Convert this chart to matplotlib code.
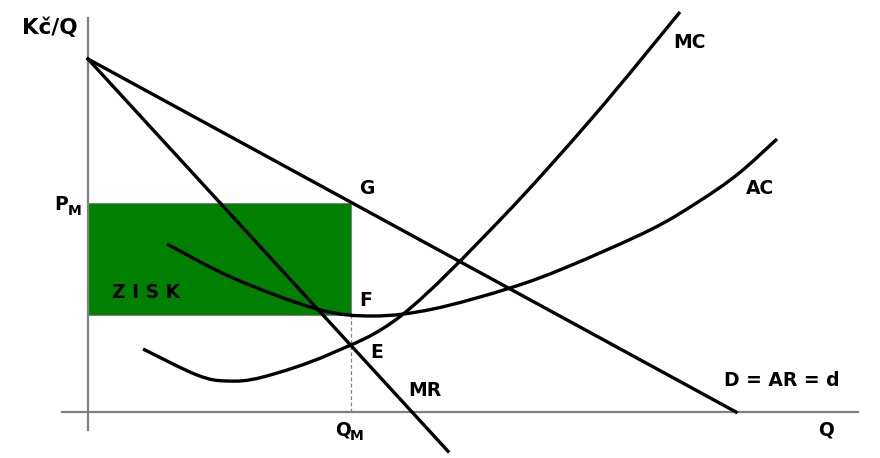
import matplotlib
matplotlib.use("Agg")
import matplotlib.pyplot as plt
from matplotlib.path import Path
from matplotlib.patches import PathPatch
import numpy as np

# --- data (Q, Kc/Q) ---
d_p0 = 35.3        # price intercept of D and MR
d_qmax = 64.8      # quantity where D meets the Q axis
mr_qend = 36.0     # MR drawn down to this Q
q_m = 26.3         # monopoly output
p_m = 20.9         # monopoly price (point G)
ac_qm = 9.7        # AC at Q_M (point F)

mc_q = [5.5, 10.9, 13.9, 17.5, 24.2, 31.4, 41.2, 50.5, 59.2]
mc_p = [6.3, 3.7, 3.1, 3.5, 5.8, 9.7, 19.2, 29.5, 40.0]

ac_q = [7.9, 14.5, 22.9, 28.5, 34.5, 42.2, 47.9, 56.2, 61.0, 65.0, 68.9]
ac_p = [16.8, 13.4, 10.3, 9.6, 10.3, 12.4, 14.5, 18.2, 21.0, 23.8, 27.3]

plt.rcParams['font.family'] = ['DejaVu Sans']


def smooth_path(xs, ys):
    # Catmull-Rom through the read points, drawn as cubic Bezier segments
    pts = np.column_stack([xs, ys]).astype(float)
    verts = [pts[0]]
    codes = [Path.MOVETO]
    n = len(pts)
    for i in range(n - 1):
        p0 = pts[max(i - 1, 0)]
        p1 = pts[i]
        p2 = pts[i + 1]
        p3 = pts[min(i + 2, n - 1)]
        c1 = p1 + (p2 - p0) / 6.0
        c2 = p2 - (p3 - p1) / 6.0
        verts += [c1, c2, p2]
        codes += [Path.CURVE4] * 3
    return Path(verts, codes)


fig = plt.figure(figsize=(8.8, 4.58), dpi=100)
ax = fig.add_axes([0, 0, 1, 1])
ax.set_xlim(-8.8, 79.2)
ax.set_ylim(-4.6, 41.2)
ax.axis('off')

gray = '#808080'
lw = 2.4

# profit rectangle
ax.fill_between([0, q_m], [ac_qm, ac_qm], [p_m, p_m], color='#008000',
                edgecolor=gray, linewidth=0.8, zorder=1)
ax.plot([q_m, q_m], [0, ac_qm], color=gray, linestyle=(0, (3, 2)),
        linewidth=0.9, zorder=1)

# axes
ax.plot([0, 0], [-1.8, 39.4], color=gray, linewidth=1.6, zorder=2)
ax.plot([-2.6, 77.0], [0, 0], color=gray, linewidth=1.6, zorder=2)

# demand and marginal revenue
ax.plot([0, d_qmax], [d_p0, 0], color='black', linewidth=lw, zorder=3)
mr_slope = 2 * d_p0 / d_qmax
ax.plot([0, mr_qend], [d_p0, d_p0 - mr_slope * mr_qend], color='black',
        linewidth=lw, zorder=3)

# cost curves
for xs, ys in [(mc_q, mc_p), (ac_q, ac_p)]:
    ax.add_patch(PathPatch(smooth_path(xs, ys), facecolor='none',
                           edgecolor='black', linewidth=lw, zorder=3,
                           capstyle='butt', joinstyle='round'))

# labels
fs = 13.5
kw = dict(fontsize=fs, fontweight='bold', ha='center', va='center',
          color='black', zorder=4)
ax.text(-3.8, 38.4, 'Kč/Q', **dict(kw, fontsize=15.5))
ax.text(60.1, 36.9, 'MC', **kw)
ax.text(67.2, 22.4, 'AC', **kw)
ax.text(27.9, 22.4, 'G', **kw)
ax.text(27.8, 11.2, 'F', **kw)
ax.text(28.9, 6.0, 'E', **kw)
ax.text(33.7, 2.1, 'MR', **kw)
ax.text(69.4, 3.1, 'D = AR = d', **kw)
ax.text(73.8, -1.8, 'Q', **kw)
ax.text(25.5, -1.8, 'Q', **kw)
ax.text(26.9, -2.4, 'M', **dict(kw, fontsize=10))
ax.text(-2.7, 20.8, 'P', **kw)
ax.text(-1.3, 20.1, 'M', **dict(kw, fontsize=10))
ax.text(5.8, 12.0, 'Z I S K', **dict(kw, fontsize=13.5))

fig.savefig('out.png', dpi=100)
